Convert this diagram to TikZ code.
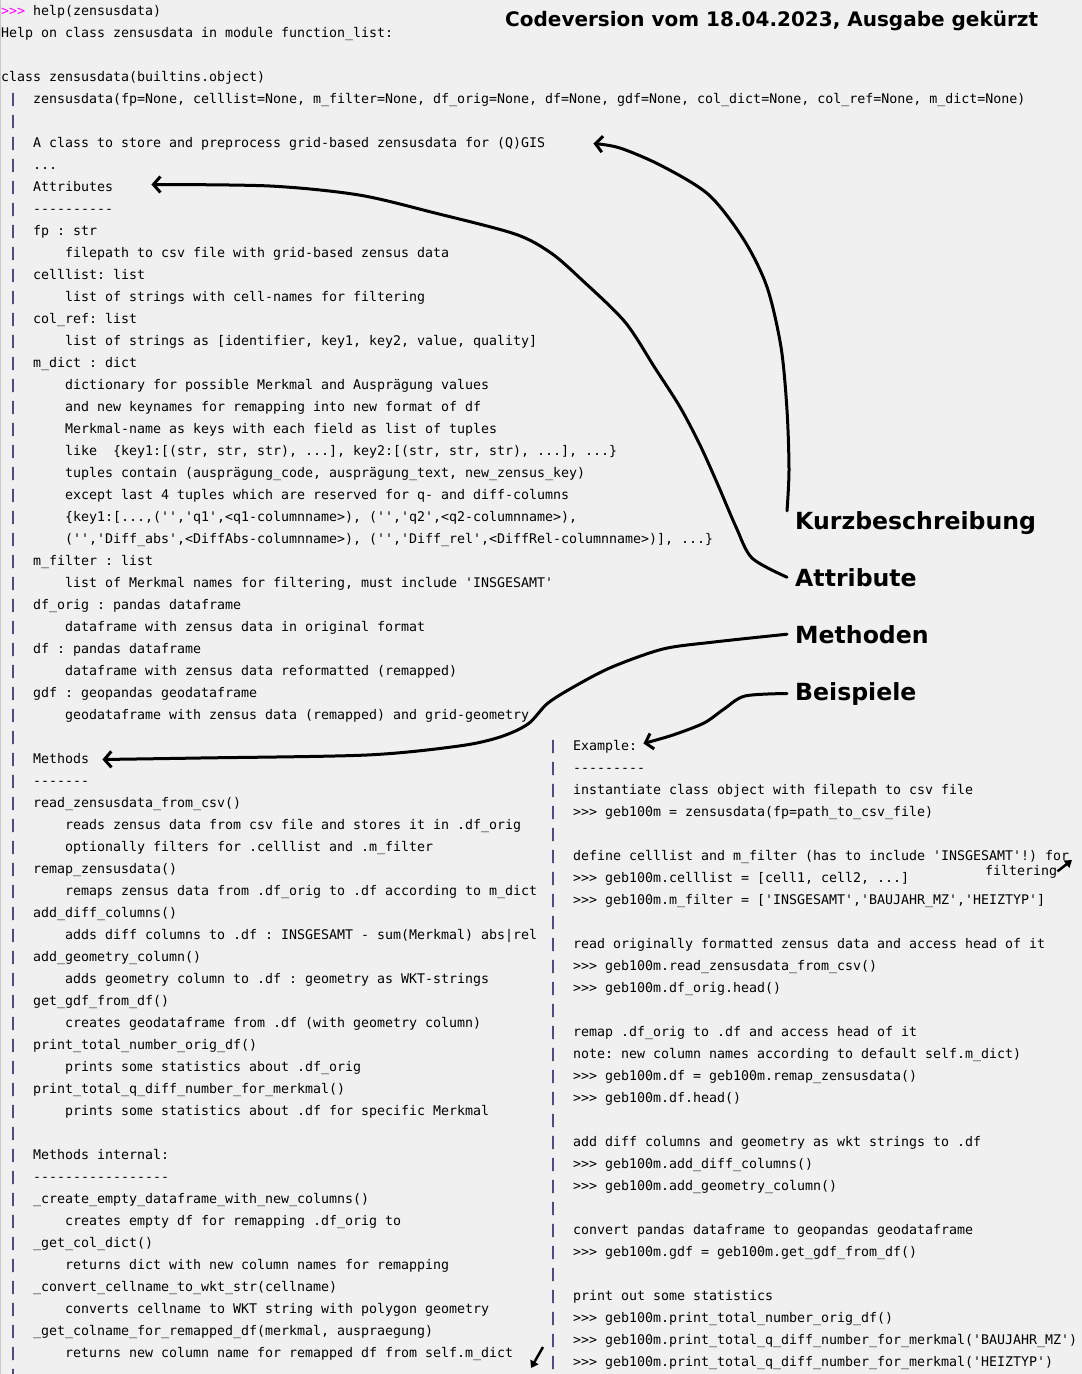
\documentclass[tikz,border=0pt]{standalone}
\usepackage{fontspec}
\setmonofont{DejaVu Sans Mono}
\setsansfont{DejaVu Sans}
\usetikzlibrary{positioning,arrows.meta}
\definecolor{bgc}{RGB}{240,240,240}
\definecolor{barblue}{RGB}{22,18,92}
\definecolor{prompt}{RGB}{255,0,255}
\definecolor{edgegray}{RGB}{200,200,200}
\newcommand\docfont{\ttfamily\fontsize{13.29}{16}\selectfont}

\begin{document}
\begin{tikzpicture}[x=1pt, y=-1pt,
                  every node/.style={inner sep=0pt, anchor=base west, font=\docfont},
                  node distance=22pt,
                  under/.style={below=of #1.base west, anchor=base west},
                  docline/.style={execute at begin node={\hspace*{8pt}\textcolor{barblue}{\bfseries|}\hspace*{16pt}}},
                  docsub/.style={execute at begin node={\hspace*{8pt}\textcolor{barblue}{\bfseries|}\hspace*{48pt}}},
                  sect/.style={font=\sffamily\bfseries\fontsize{23.6}{28}\selectfont, inner xsep=8pt},
                  scribble/.style={line width=3pt, line cap=round, line join=round, -{Straight Barb[length=7pt,width=16pt]}},
                  nudge/.style={line width=2.5pt, -{Triangle[length=7pt,width=9pt]}},
            ]
            \fill[bgc] (0,0) rectangle (1082,1374);
            \useasboundingbox (0,0) rectangle (1082,1374);
            \draw[edgegray, line width=1pt] (0.5,0) -- (0.5,1374);

            \node (l0) at (1,15) {\textcolor{prompt}{>>>} help(zensusdata)};
            \node (l1) [under=l0] {Help on class zensusdata in module function\_list:};
            \node (l3) [below=44pt of l1.base west, anchor=base west] {class zensusdata(builtins.object)};
            \node[docline] (l4) [under=l3] {zensusdata(fp=None, celllist=None, m\_filter=None, df\_orig=None, df=None, gdf=None, col\_dict=None, col\_ref=None, m\_dict=None)};
            \node[docline] (l5) [under=l4] {};
            \node[docline] (l6) [under=l5] {A class to store and preprocess grid-based zensusdata for (Q)GIS};
            \node[docline] (l7) [under=l6] {...};
            \node[docline] (l8) [under=l7] {Attributes};
            \node[docline] (l9) [under=l8] {----------};
            \node[docline] (l10) [under=l9] {fp : str};
            \node[docsub] (l11) [under=l10] {filepath to csv file with grid-based zensus data};
            \node[docline] (l12) [under=l11] {celllist: list};
            \node[docsub] (l13) [under=l12] {list of strings with cell-names for filtering};
            \node[docline] (l14) [under=l13] {col\_ref: list};
            \node[docsub] (l15) [under=l14] {list of strings as [identifier, key1, key2, value, quality]};
            \node[docline] (l16) [under=l15] {m\_dict : dict};
            \node[docsub] (l17) [under=l16] {dictionary for possible Merkmal and Ausprägung values};
            \node[docsub] (l18) [under=l17] {and new keynames for remapping into new format of df};
            \node[docsub] (l19) [under=l18] {Merkmal-name as keys with each field as list of tuples};
            \node[docsub] (l20) [under=l19] {like\ \ \{key1:[(str, str, str), ...], key2:[(str, str, str), ...], ...\}};
            \node[docsub] (l21) [under=l20] {tuples contain (ausprägung\_code, ausprägung\_text, new\_zensus\_key)};
            \node[docsub] (l22) [under=l21] {except last 4 tuples which are reserved for q- and diff-columns};
            \node[docsub] (l23) [under=l22] {\{key1:[...,('','q1',<q1-columnname>), ('','q2',<q2-columnname>),};
            \node[docsub] (l24) [under=l23] {('','Diff\_abs',<DiffAbs-columnname>), ('','Diff\_rel',<DiffRel-columnname>)], ...\}};
            \node[docline] (l25) [under=l24] {m\_filter : list};
            \node[docsub] (l26) [under=l25] {list of Merkmal names for filtering, must include 'INSGESAMT'};
            \node[docline] (l27) [under=l26] {df\_orig : pandas dataframe};
            \node[docsub] (l28) [under=l27] {dataframe with zensus data in original format};
            \node[docline] (l29) [under=l28] {df : pandas dataframe};
            \node[docsub] (l30) [under=l29] {dataframe with zensus data reformatted (remapped)};
            \node[docline] (l31) [under=l30] {gdf : geopandas geodataframe};
            \node[docsub] (l32) [under=l31] {geodataframe with zensus data (remapped) and grid-geometry};
            \node[docline] (l33) [under=l32] {};
            \node[docline] (l34) [under=l33] {Methods};
            \node[docline] (l35) [under=l34] {-------};
            \node[docline] (l36) [under=l35] {read\_zensusdata\_from\_csv()};
            \node[docsub] (l37) [under=l36] {reads zensus data from csv file and stores it in .df\_orig};
            \node[docsub] (l38) [under=l37] {optionally filters for .celllist and .m\_filter};
            \node[docline] (l39) [under=l38] {remap\_zensusdata()};
            \node[docsub] (l40) [under=l39] {remaps zensus data from .df\_orig to .df according to m\_dict};
            \node[docline] (l41) [under=l40] {add\_diff\_columns()};
            \node[docsub] (l42) [under=l41] {adds diff columns to .df : INSGESAMT - sum(Merkmal) abs|rel};
            \node[docline] (l43) [under=l42] {add\_geometry\_column()};
            \node[docsub] (l44) [under=l43] {adds geometry column to .df : geometry as WKT-strings};
            \node[docline] (l45) [under=l44] {get\_gdf\_from\_df()};
            \node[docsub] (l46) [under=l45] {creates geodataframe from .df (with geometry column)};
            \node[docline] (l47) [under=l46] {print\_total\_number\_orig\_df()};
            \node[docsub] (l48) [under=l47] {prints some statistics about .df\_orig};
            \node[docline] (l49) [under=l48] {print\_total\_q\_diff\_number\_for\_merkmal()};
            \node[docsub] (l50) [under=l49] {prints some statistics about .df for specific Merkmal};
            \node[docline] (l51) [under=l50] {};
            \node[docline] (l52) [under=l51] {Methods internal:};
            \node[docline] (l53) [under=l52] {-----------------};
            \node[docline] (l54) [under=l53] {\_create\_empty\_dataframe\_with\_new\_columns()};
            \node[docsub] (l55) [under=l54] {creates empty df for remapping .df\_orig to};
            \node[docline] (l56) [under=l55] {\_get\_col\_dict()};
            \node[docsub] (l57) [under=l56] {returns dict with new column names for remapping};
            \node[docline] (l58) [under=l57] {\_convert\_cellname\_to\_wkt\_str(cellname)};
            \node[docsub] (l59) [under=l58] {converts cellname to WKT string with polygon geometry};
            \node[docline] (l60) [under=l59] {\_get\_colname\_for\_remapped\_df(merkmal, auspraegung)};
            \node[docsub] (l61) [under=l60] {returns new column name for remapped df from self.m\_dict};
            \node[docline] (l62) [under=l61] {};

            \node[docline] (r0) at (541,750) {Example:};
            \node[docline] (r1) [under=r0] {---------};
            \node[docline] (r2) [under=r1] {instantiate class object with filepath to csv file};
            \node[docline] (r3) [under=r2] {>>> geb100m = zensusdata(fp=path\_to\_csv\_file)};
            \node[docline] (r4) [under=r3] {};
            \node[docline] (r5) [under=r4] {define celllist and m\_filter (has to include 'INSGESAMT'!) for};
            \node[docline] (r6) [under=r5] {>>> geb100m.celllist = [cell1, cell2, ...]};
            \node[docline] (r7) [under=r6] {>>> geb100m.m\_filter = ['INSGESAMT','BAUJAHR\_MZ','HEIZTYP']};
            \node[docline] (r8) [under=r7] {};
            \node[docline] (r9) [under=r8] {read originally formatted zensus data and access head of it};
            \node[docline] (r10) [under=r9] {>>> geb100m.read\_zensusdata\_from\_csv()};
            \node[docline] (r11) [under=r10] {>>> geb100m.df\_orig.head()};
            \node[docline] (r12) [under=r11] {};
            \node[docline] (r13) [under=r12] {remap .df\_orig to .df and access head of it};
            \node[docline] (r14) [under=r13] {note: new column names according to default self.m\_dict)};
            \node[docline] (r15) [under=r14] {>>> geb100m.df = geb100m.remap\_zensusdata()};
            \node[docline] (r16) [under=r15] {>>> geb100m.df.head()};
            \node[docline] (r17) [under=r16] {};
            \node[docline] (r18) [under=r17] {add diff columns and geometry as wkt strings to .df};
            \node[docline] (r19) [under=r18] {>>> geb100m.add\_diff\_columns()};
            \node[docline] (r20) [under=r19] {>>> geb100m.add\_geometry\_column()};
            \node[docline] (r21) [under=r20] {};
            \node[docline] (r22) [under=r21] {convert pandas dataframe to geopandas geodataframe};
            \node[docline] (r23) [under=r22] {>>> geb100m.gdf = geb100m.get\_gdf\_from\_df()};
            \node[docline] (r24) [under=r23] {};
            \node[docline] (r25) [under=r24] {print out some statistics};
            \node[docline] (r26) [under=r25] {>>> geb100m.print\_total\_number\_orig\_df()};
            \node[docline] (r27) [under=r26] {>>> geb100m.print\_total\_q\_diff\_number\_for\_merkmal('BAUJAHR\_MZ')};
            \node[docline] (r28) [under=r27] {>>> geb100m.print\_total\_q\_diff\_number\_for\_merkmal('HEIZTYP')};

            \node (filt) at (985,875) {filtering};
            \coordinate (filtend) at (1072,860);
            \draw[nudge] (filt.east) -- (filtend);
            \coordinate (contfrom) at (543,1347);
            \coordinate (contto) at (531,1368);
            \draw[nudge] (contfrom) -- (contto);

            \node[font=\sffamily\bfseries\fontsize{20}{24}\selectfont] (title) at (505,26) {Codeversion vom 18.04.2023, Ausgabe gekürzt};
            \node[sect] (kurz) at (787,529) {Kurzbeschreibung};
            \node[sect] (attr) [below=57pt of kurz.base west, anchor=base west] {Attribute};
            \node[sect] (meth) [below=57pt of attr.base west, anchor=base west] {Methoden};
            \node[sect] (beisp) [below=57pt of meth.base west, anchor=base west] {Beispiele};

            \coordinate (kurzend) at ([xshift=48pt]l6.east);
            \draw[scribble] plot[smooth] coordinates {(kurz.north west) (789,470) (787,410) (781,347) (767,287) (744,240) (709,195) (662,166) (620,148) (kurzend)};
            \coordinate (attrend) at ([xshift=38pt,yshift=3pt]l8.east);
            \draw[scribble] plot[smooth] coordinates {(attr.west) (752,558) (736,527) (718,485) (700,445) (680,407) (655,368) (625,322) (582,280) (551,253) (515,234) (435,213) (359,195) (270,186) (attrend)};
            \coordinate (methend) at ([xshift=13pt]l34.east);
            \draw[scribble] plot[smooth] coordinates {(meth.west) (714,642) (663,649) (612,667) (577,685) (548,703) (528,724) (500,737) (459,746) (367,755) (200,758) (methend)};
            \coordinate (beispend) at ([xshift=6pt,yshift=3pt]r0.east);
            \draw[scribble] plot[smooth] coordinates {(beisp.west) (745,696) (724,709) (704,723) (673,735) (beispend)};
      \end{tikzpicture}
\end{document}
